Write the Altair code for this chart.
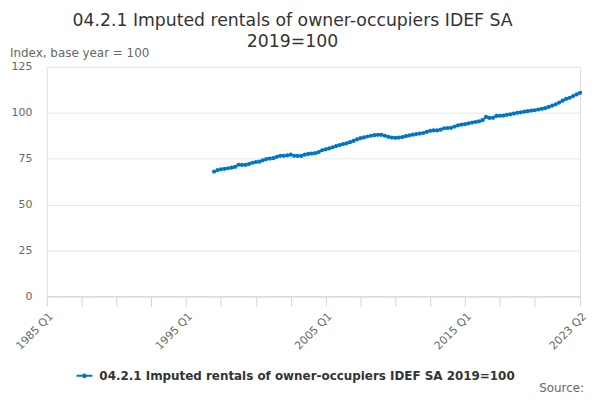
import altair as alt
import pandas as pd

title_lines = ["04.2.1 Imputed rentals of owner-occupiers IDEF SA", "2019=100"]
series_name = "04.2.1 Imputed rentals of owner-occupiers IDEF SA 2019=100"
y_title = "Index, base year = 100"
source_text = "Source:"

start_year = 1997
start_quarter = 1
values = [
    68.0, 68.8, 69.2, 69.5,      # 1997
    69.8, 70.1, 70.5, 71.7,      # 1998
    71.6, 71.6, 72.1, 72.8,      # 1999
    73.2, 73.4, 74.1, 74.8,      # 2000
    75.1, 75.3, 76.0, 76.6,      # 2001
    76.6, 76.8, 77.2, 76.6,      # 2002
    76.5, 76.5, 77.2, 77.6,      # 2003
    77.8, 78.0, 78.6, 79.6,      # 2004
    80.1, 80.6, 81.2, 81.9,      # 2005
    82.4, 82.9, 83.4, 84.0,      # 2006
    84.7, 85.5, 86.2, 86.6,      # 2007
    87.1, 87.5, 87.8, 88.0,      # 2008
    88.0, 87.5, 86.9, 86.5,      # 2009
    86.4, 86.5, 86.8, 87.3,      # 2010
    87.7, 88.1, 88.4, 88.7,      # 2011
    89.0, 89.6, 90.2, 90.4,      # 2012
    90.4, 90.8, 91.6, 91.7,      # 2013
    91.8, 92.5, 93.2, 93.6,      # 2014
    93.8, 94.2, 94.7, 95.0,      # 2015
    95.3, 96.0, 97.8, 97.2,      # 2016
    97.3, 98.3, 98.4, 98.5,      # 2017
    98.9, 99.2, 99.6, 100.0,     # 2018
    100.3, 100.6, 100.9, 101.2,  # 2019
    101.4, 101.8, 102.2, 102.6,  # 2020
    103.2, 103.9, 104.6, 105.6,  # 2021
    106.6, 107.6, 108.2, 109.1,  # 2022
    110.0, 110.9,                # 2023
]

y_ticks = [0, 25, 50, 75, 100, 125]
x_domain = [1985, 2023.25]
x_tick_values = [1985, 1987.5, 1990, 1992.5, 1995, 1997.5, 2000, 2002.5, 2005,
                 2007.5, 2010, 2012.5, 2015, 2017.5, 2020, 2023.25]
x_label_values = [1985, 1995, 2005, 2015, 2023.25]

BLUE = "#0076c4"
FONT = "DejaVu Sans"

rows = []
for i, v in enumerate(values):
    qi = start_quarter - 1 + i
    year = start_year + qi // 4
    q = qi % 4 + 1
    rows.append({"t": year + (q - 1) / 4, "period": f"{year} Q{q}",
                 "value": v, "series": series_name})
df = pd.DataFrame(rows)

label_expr = (
    "indexof(" + str(x_label_values) + ", datum.value) >= 0 ? "
    "floor(datum.value) + ' Q' + (round((datum.value - floor(datum.value)) * 4) + 1) : ''"
)

x_enc = alt.X(
    "t:Q",
    scale=alt.Scale(domain=x_domain, nice=False, zero=False),
    axis=alt.Axis(
        title=None, values=x_tick_values, labelExpr=label_expr,
        labelAngle=315, labelAlign="right", labelBaseline="top",
        labelColor="#666666", labelFontSize=11, labelFont=FONT, labelPadding=4,
        labelOverlap=False, labelBound=False, labelFlush=False,
        domainColor="#ccd6eb", domainWidth=1, tickColor="#ccd6eb", tickSize=10,
        grid=False,
    ),
)
y_enc = alt.Y(
    "value:Q",
    scale=alt.Scale(domain=[0, 125], nice=False),
    axis=alt.Axis(
        title=None, values=y_ticks, domain=False, ticks=False,
        gridColor="#e6e6e6", gridWidth=1,
        labelColor="#666666", labelFontSize=11, labelFont=FONT, labelPadding=15,
    ),
)
legend_symbol = (
    "M-1,-0.12H1V0.12H-1Z"
    "M0.3,0A0.3,0.3,0,1,1,-0.3,0A0.3,0.3,0,1,1,0.3,0Z"
)
color_enc = alt.Color(
    "series:N",
    scale=alt.Scale(domain=[series_name], range=[BLUE]),
    legend=alt.Legend(
        title=None, orient="none", legendX=30, legendY=303, padding=0,
        symbolType=legend_symbol,
        symbolSize=256, symbolStrokeWidth=0, symbolFillColor=BLUE,
        symbolStrokeColor=BLUE, symbolOffset=0,
        labelFont=FONT, labelFontSize=12, labelFontWeight="bold",
        labelColor="#333333", labelOffset=7, labelLimit=600,
    ),
)

base = alt.Chart(df)
line = base.mark_line(strokeWidth=2).encode(x=x_enc, y=y_enc, color=color_enc)
points = base.mark_point(filled=True, size=18, opacity=1, color=BLUE).encode(
    x=x_enc, y=y_enc)

ytitle = alt.Chart(pd.DataFrame({"txt": [y_title]})).mark_text(
    align="left", baseline="alphabetic", font=FONT, fontSize=12, color="#666666"
).encode(text="txt:N", x=alt.value(-37), y=alt.value(-10))

source = alt.Chart(pd.DataFrame({"txt": [source_text]})).mark_text(
    align="right", baseline="alphabetic", font=FONT, fontSize=12, color="#666666"
).encode(text="txt:N", x=alt.value(541), y=alt.value(327))

chart = alt.layer(line, points, ytitle, source).properties(
    width=537, height=231,
    title=alt.TitleParams(
        text=title_lines, anchor="middle", frame="group", fontSize=17.4,
        font=FONT, fontWeight="normal", color="#333333", dx=-21, dy=7,
        lineHeight=21,
    ),
    autosize=alt.AutoSizeParams(type="none"),
    padding={"left": 39, "top": 58, "right": 12, "bottom": 102},
).configure_view(stroke=None).configure(background="white")

chart.save("out.html", embed_options={"renderer": "svg", "actions": False})
